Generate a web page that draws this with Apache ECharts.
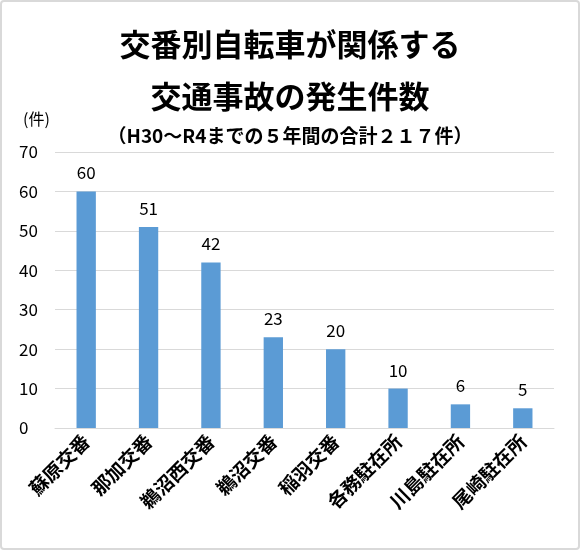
<!DOCTYPE html>
<html><head><meta charset="utf-8">
<script src="https://cdn.jsdelivr.net/npm/echarts@6/dist/echarts.min.js"></script>
<style>
html,body{margin:0;padding:0;background:#fff;}
#c{width:580px;height:550px;box-sizing:border-box;border:2px solid #d9d9d9;border-radius:4px;}
</style></head>
<body><div id="c"></div>
<script>
const categories = ['蘇原交番','那加交番','鵜沼西交番','鵜沼交番','稲羽交番','各務駐在所','川島駐在所','尾崎駐在所'];
const counts = [60,51,42,23,20,10,6,5];
const titleLine1 = '交番別自転車が関係する';
const titleLine2 = '交通事故の発生件数';
const subtitle = '（H30～R4までの５年間の合計２１７件）';
const unitLabel = '(件)';

const font = '"Noto Sans CJK JP","Noto Sans",sans-serif';
const chart = echarts.init(document.getElementById('c'), null, {renderer:'canvas'});
chart.setOption({
  animation:false,
  textStyle:{fontFamily:font},
  title:[
    {text:titleLine1, left:'center', top:22, textStyle:{fontSize:31, fontWeight:'bold', color:'#000', fontFamily:font}},
    {text:titleLine2, left:'center', top:74, textStyle:{fontSize:31, fontWeight:'bold', color:'#000', fontFamily:font}},
    {text:subtitle, left:'center', top:119, textStyle:{fontSize:19, fontWeight:'bold', color:'#000', fontFamily:font}},
    {text:unitLabel, left:16, top:104, textStyle:{fontSize:16, fontWeight:'normal', color:'#000', fontFamily:font}}
  ],
  grid:{left:53, right:24, top:150, bottom:120, containLabel:false},
  xAxis:{
    type:'category', data:categories,
    axisLine:{show:true, lineStyle:{color:'#d9d9d9', width:1}},
    axisTick:{show:false},
    axisLabel:{rotate:45, fontSize:19, fontWeight:'bold', color:'#000', margin:10, fontFamily:font, interval:0}
  },
  yAxis:{
    type:'value', min:0, max:70, interval:10,
    axisLine:{show:false}, axisTick:{show:false},
    splitLine:{lineStyle:{color:'#d9d9d9', width:1}},
    axisLabel:{fontSize:17, color:'#000', align:'left', margin:36, fontFamily:font}
  },
  series:[{
    type:'bar', data:counts, barWidth:'31%',
    itemStyle:{color:'#5b9bd5'},
    label:{show:true, position:'top', distance:10, fontSize:17, color:'#000', fontFamily:font}
  }]
});
</script></body></html>
